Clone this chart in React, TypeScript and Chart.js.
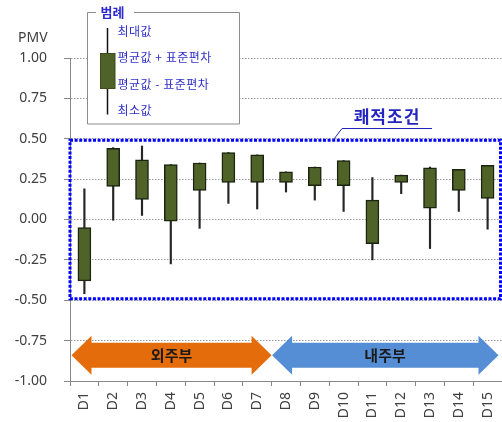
import { useEffect, useRef } from "react";
import { Chart, registerables } from "chart.js";

Chart.register(...registerables);

// ---- data ----
const categories = ["D1", "D2", "D3", "D4", "D5", "D6", "D7", "D8", "D9", "D10", "D11", "D12", "D13", "D14", "D15"];
const maxValues = [0.19, 0.445, 0.455, 0.34, 0.35, 0.415, 0.4, 0.295, 0.325, 0.365, 0.26, 0.275, 0.325, 0.31, 0.335];
const upperValues = [-0.05, 0.44, 0.37, 0.34, 0.35, 0.415, 0.4, 0.295, 0.325, 0.365, 0.12, 0.275, 0.32, 0.31, 0.335]; // mean + SD
const lowerValues = [-0.38, 0.205, 0.125, -0.01, 0.18, 0.23, 0.23, 0.23, 0.21, 0.21, -0.15, 0.23, 0.07, 0.18, 0.13]; // mean - SD
const minValues = [-0.46, -0.005, 0.025, -0.275, -0.055, 0.1, 0.065, 0.17, 0.12, 0.05, -0.25, 0.16, -0.18, 0.05, -0.06];
const yTicks = [1, 0.75, 0.5, 0.25, 0, -0.25, -0.5, -0.75, -1];
const comfortRange = [-0.5, 0.5];
const zoneLabels = ["외주부", "내주부"];
const zoneSplit = 7; // number of categories in the first zone
const zoneCenter = -0.84; // PMV level of the zone arrows
const legendTitle = "범례";
const legendItems = ["최대값", "평균값 + 표준편차", "평균값 - 표준편차", "최소값"];
const comfortLabel = "쾌적조건";
const axisTitle = "PMV";

const SANS = '"Noto Sans", "Noto Sans CJK KR", sans-serif';
const KR = '"Noto Sans CJK KR", "Noto Sans", sans-serif';
const BOX_FILL = "#4F6228";

function doubleArrow(ctx: CanvasRenderingContext2D, xL: number, xR: number, yc: number, color: string) {
  const head = 20;
  const hh = 19.5;
  const sh = 12.5;
  ctx.beginPath();
  ctx.moveTo(xL, yc);
  ctx.lineTo(xL + head, yc - hh);
  ctx.lineTo(xL + head, yc - sh);
  ctx.lineTo(xR - head, yc - sh);
  ctx.lineTo(xR - head, yc - hh);
  ctx.lineTo(xR, yc);
  ctx.lineTo(xR - head, yc + hh);
  ctx.lineTo(xR - head, yc + sh);
  ctx.lineTo(xL + head, yc + sh);
  ctx.lineTo(xL + head, yc + hh);
  ctx.closePath();
  ctx.fillStyle = color;
  ctx.fill();
}

const overlay = {
  id: "overlay",
  afterDatasetsDraw(chart: any) {
    const { ctx, chartArea, scales } = chart;
    const x = scales.x;
    const y = scales.y;
    ctx.save();

    // comfort zone frame
    const yTop = y.getPixelForValue(comfortRange[1]) + 1.5;
    const yBot = y.getPixelForValue(comfortRange[0]) - 1.5;
    const xl = chartArea.left;
    const xr = chartArea.right - 1.5;
    ctx.strokeStyle = "#0000ff";
    ctx.lineWidth = 3;
    ctx.setLineDash([3, 1.6]);
    ctx.lineCap = "butt";
    ctx.strokeRect(xl, yTop, xr - xl, yBot - yTop);
    ctx.setLineDash([]);

    // callout for the comfort label
    ctx.strokeStyle = "#2424c0";
    ctx.lineWidth = 1;
    ctx.beginPath();
    ctx.moveTo(333, yTop);
    ctx.lineTo(342, 128.5);
    ctx.lineTo(432, 128.5);
    ctx.stroke();
    ctx.font = `bold 17px ${KR}`;
    ctx.fillStyle = "#2424c0";
    ctx.textAlign = "center";
    ctx.textBaseline = "middle";
    (ctx as any).letterSpacing = "1px";
    ctx.fillText(comfortLabel, 387, 117);
    (ctx as any).letterSpacing = "0px";

    // zone arrows
    const yc = y.getPixelForValue(zoneCenter);
    const split = x.getPixelForValue(zoneSplit - 0.5);
    const startX = x.getPixelForValue(-0.5) + 1.5;
    const endX = x.getPixelForValue(categories.length - 0.5) - 3.5;
    doubleArrow(ctx, startX, split, yc, "#E46C0A");
    doubleArrow(ctx, split + 0.5, endX, yc, "#558ED5");
    ctx.font = `bold 15px ${KR}`;
    ctx.fillStyle = "#1a1a1a";
    ctx.fillText(zoneLabels[0], (startX + split) / 2, yc);
    ctx.fillText(zoneLabels[1], (split + endX) / 2, yc);
    ctx.restore();
  },
  afterDraw(chart: any) {
    const { ctx } = chart;
    ctx.save();

    // axis caption
    ctx.font = `14px ${SANS}`;
    ctx.fillStyle = "#404040";
    ctx.textAlign = "left";
    ctx.textBaseline = "middle";
    ctx.fillText(axisTitle, 18, 38);

    // legend panel
    const L = 87.5, T = 12.5, R = 239.5, B = 124;
    ctx.fillStyle = "#ffffff";
    ctx.fillRect(L, T, R - L, B - T);
    ctx.strokeStyle = "#8c8c8c";
    ctx.lineWidth = 1;
    ctx.beginPath();
    ctx.moveTo(96, T);
    ctx.lineTo(L, T);
    ctx.lineTo(L, B);
    ctx.lineTo(R, B);
    ctx.lineTo(R, T);
    ctx.lineTo(134, T);
    ctx.stroke();

    ctx.font = `bold 13px ${KR}`;
    ctx.fillStyle = "#2a2ad0";
    ctx.fillText(legendTitle, 100.5, T);

    // sample candle
    ctx.strokeStyle = "#111111";
    ctx.lineWidth = 1.5;
    ctx.beginPath();
    ctx.moveTo(107.5, 28);
    ctx.lineTo(107.5, 114.5);
    ctx.stroke();
    ctx.fillStyle = BOX_FILL;
    ctx.fillRect(100.5, 53.5, 14.5, 35);
    ctx.strokeStyle = "#3a4a1c";
    ctx.lineWidth = 1;
    ctx.strokeRect(100.5, 53.5, 14.5, 35);

    ctx.font = `12px ${KR}`;
    ctx.fillStyle = "#3030c8";
    (ctx as any).letterSpacing = "0.5px";
    const rows = [31, 57.5, 84, 110];
    legendItems.forEach((t, i) => ctx.fillText(t, 117.5, rows[i]));
    (ctx as any).letterSpacing = "0px";
    ctx.restore();
  },
};

export default function App() {
  const ref = useRef<HTMLCanvasElement | null>(null);

  useEffect(() => {
    document.body.style.margin = "0";
    const canvas = ref.current;
    if (!canvas) return;
    const chart = new Chart(canvas, {
      type: "bar",
      data: {
        labels: categories,
        datasets: [
          {
            label: "mean ± SD",
            data: upperValues.map((u, i) => [lowerValues[i], u]) as any,
            backgroundColor: BOX_FILL,
            borderColor: "#1c2410",
            borderWidth: 1.5,
            borderSkipped: false,
            barThickness: 13,
            grouped: false,
            order: 1,
          },
          {
            label: "range",
            data: maxValues.map((m, i) => [minValues[i], m]) as any,
            backgroundColor: "#262626",
            borderWidth: 0,
            barThickness: 1.5,
            grouped: false,
            order: 2,
          },
        ],
      },
      options: {
        responsive: false,
        animation: false,
        layout: { padding: { top: 58, left: 0, right: 0, bottom: 0 } },
        plugins: { legend: { display: false }, tooltip: { enabled: false } },
        scales: {
          x: {
            grid: { display: true, drawOnChartArea: false, offset: true, tickLength: 5, color: "#888888", tickColor: "#888888" },
            border: { color: "#888888", width: 1 },
            ticks: {
              autoSkip: false,
              minRotation: 90,
              maxRotation: 90,
              padding: 6,
              color: "#404040",
              font: { family: SANS, size: 14 },
            },
            afterFit: (s: any) => {
              s.height = 41;
              s.paddingLeft = 0;
              s.paddingRight = 0;
            },
          },
          y: {
            min: -1,
            max: 1,
            afterBuildTicks: (s: any) => {
              s.ticks = yTicks.map((value) => ({ value }));
            },
            ticks: {
              callback: (v: any) => Number(v).toFixed(2),
              padding: 17,
              color: "#404040",
              font: { family: SANS, size: 14 },
            },
            grid: { color: "#9a9a9a", tickLength: 6, tickColor: "#888888", lineWidth: 1 },
            border: { color: "#888888", width: 1, dash: [1.5, 1.5] },
            afterFit: (s: any) => {
              s.width = 70;
              s.paddingTop = 0;
              s.paddingBottom = 0;
            },
          },
        },
      },
      plugins: [overlay],
    });
    return () => chart.destroy();
  }, []);

  return (
    <div style={{ position: "absolute", left: 0, top: 0, width: 502, height: 422 }}>
      <canvas ref={ref} width={502} height={422} style={{ width: 502, height: 422 }} />
    </div>
  );
}
